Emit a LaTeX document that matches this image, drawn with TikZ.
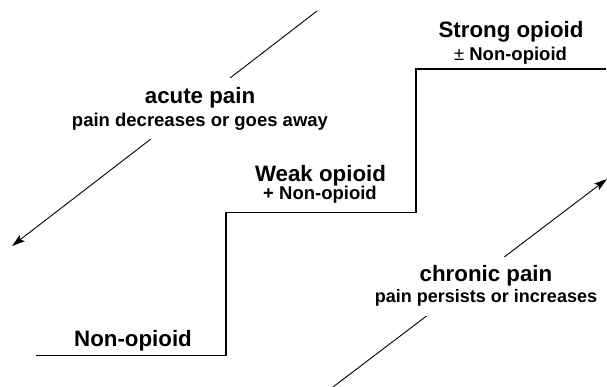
\documentclass[tikz,border=0pt]{standalone}
\usepackage{fontspec}
\setmainfont{Liberation Sans}
\usetikzlibrary{arrows.meta}
\begin{document}
\begin{tikzpicture}[x=1pt,y=-1pt,
  bigtext/.style={font=\bfseries\fontsize{22.3}{26}\selectfont},
  smalltext/.style={font=\bfseries\fontsize{18.5}{22}\selectfont},
  lbl/.style={inner sep=0pt, anchor=base},
  stair/.style={line width=1.2pt, line join=miter},
  trend/.style={line width=0.9pt, -{Stealth[length=13pt,width=8pt,inset=2.5pt]}},
  gapbox/.style={fill=white, align=center, inner xsep=2pt, inner ysep=0pt}
]
\useasboundingbox (0,0) rectangle (607,387);
% staircase
\coordinate (s0) at (36,355.5);
\coordinate (s1) at (226,355.5);
\coordinate (s2) at (226,212.5);
\coordinate (s3) at (416,212.5);
\coordinate (s4) at (416,69);
\coordinate (s5) at (606,69);
\draw[stair] (s0) -- (s1) -- (s2) -- (s3) -- (s4) -- (s5);
% step labels
\node[bigtext,lbl] (nonop) at (133,346.7) {Non-opioid};
\node[bigtext,lbl] (weak) at (320.5,181.5) {Weak opioid};
\node[smalltext,lbl] (weakplus) at (320,199.5) {+ Non-opioid};
\node[bigtext,lbl] (strong) at (511,37.5) {Strong opioid};
\node[smalltext,lbl] (strongplus) at (510.5,61) {{\mdseries ±} Non-opioid};
% acute pain arrow
\coordinate (as) at (317,11);
\coordinate (ae) at (12,246);
\draw[trend] (as) -- (ae);
\node[gapbox, minimum height=61pt, font=\bfseries\fontsize{18.5}{22.5}\selectfont] (acute) at (200,109)
  {{\fontsize{22.3}{26}\selectfont acute pain}\\pain decreases or goes away};
% chronic pain arrow
\coordinate (cs) at (333,387);
\coordinate (ce) at (607,179);
\draw[trend] (cs) -- (ce);
\node[gapbox, minimum height=59pt, font=\bfseries\fontsize{18}{21}\selectfont] (chronic) at (486,286)
  {{\fontsize{22.3}{26}\selectfont chronic pain}\\pain persists or increases};
\end{tikzpicture}
\end{document}
